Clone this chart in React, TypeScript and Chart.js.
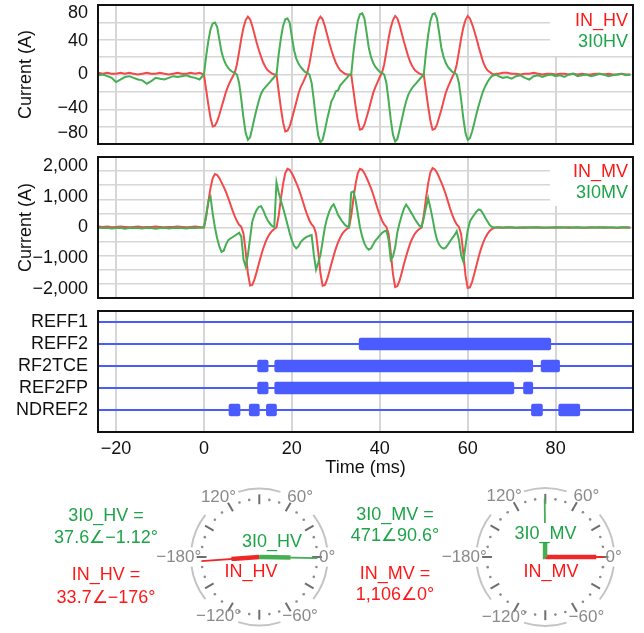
import React, { useEffect, useRef } from "react";
import { Chart, registerables } from "chart.js";

Chart.register(...registerables);

const FONT = "'Liberation Sans', Arial, Helvetica, sans-serif";
const RED_LINE = "rgb(242, 74, 74)";
const GREEN_LINE = "rgb(70, 174, 84)";
const RED_TEXT = "rgb(255, 24, 24)";
const GREEN_TEXT = "rgb(30, 164, 72)";
const BLUE = "rgb(74, 92, 255)";
const GRID = "rgb(214, 214, 214)";

// ---------------- DATA ----------------
// time grid (ms): 1 ms before/after the fault, 0.5 ms during it
const preTimes = [-24, -23, -22, -21, -20, -19, -18, -17, -16, -15, -14, -13, -12, -11, -10, -9, -8, -7, -6, -5, -4, -3, -2, -1];
const faultTimes = Array.from({ length: 134 }, (_, i) => i / 2);
const postTimes = [67, 68, 69, 70, 71, 72, 73, 74, 75, 76, 77, 78, 79, 80, 81, 82, 83, 84, 85, 86, 87, 88, 89, 90, 91, 92, 93, 94, 95, 96, 97];
const timeMs = [...preTimes, ...faultTimes, ...postTimes];

// IN_HV (A)
const inHV = [
  2, 1, 2, 1, 1, 2, 1, 2, 1, 0, 1, 2, 1, 1, 2, 1, 0, 1, 2, 1, 1, 2, 1, 2,
  0, -18, -36, -52, -62, -61, -56, -48, -39, -30, -21, -14, -8, -3, 2, 12, 27, 43, 56, 65, 69, 66, 58, 48, 38, 29, 21, 14, 9, 5, 3, 1, 0,
  0, -20, -40, -57, -68, -67, -62, -53, -43, -33, -23, -15, -10, -4, 2, 13, 28, 43, 56, 65, 69, 66, 58, 48, 38, 29, 21, 14, 9, 5, 3, 1, 0, 0,
  0, -19, -38, -55, -66, -65, -60, -51, -42, -32, -22, -15, -9, -3, 2, 12, 27, 43, 56, 65, 70, 67, 59, 49, 39, 30, 21, 14, 9, 5, 3, 1, 0,
  0, -19, -38, -55, -66, -65, -60, -51, -42, -32, -22, -15, -9, -3, 2, 12, 27, 43, 56, 65, 70, 67, 60, 52, 43, 33, 24, 15, 9, 5, 3, 1, 0, 1,
  1, 2, 2, 1, 1, 0, 1, 1, 2, 1, 0, 1, 1, 0, 1, 1, 0, 1, 0, 1, 0, 0, 1, 1, 0, 1, 0, 0, 1, 0, 0,
];
// 3I0HV (A)
const i0HV = [
  -1, 0, -2, -4, -9, -6, -3, -2, -4, -6, -7, -11, -8, -4, -5, -6, -4, -2, -3, -2, -1, -3, -4, -6,
  0, 22, 40, 54, 61, 62, 57, 42, 27, 18, 12, 8, 5, 3, 2, 0, -10, -30, -52, -70, -78, -75, -64, -52, -41, -31, -23, -18, -15, -12, -9, -6, -3,
  0, 24, 43, 58, 66, 67, 62, 45, 29, 19, 13, 9, 6, 3, 2, 0, -10, -31, -54, -73, -81, -78, -67, -54, -43, -32, -27, -20, -19, -13, -10, -7, -4, -1,
  0, 26, 47, 64, 72, 73, 67, 50, 32, 21, 14, 9, 6, 3, 2, 0, -10, -31, -54, -72, -80, -77, -66, -54, -42, -32, -24, -19, -15, -12, -9, -6, -3,
  0, 26, 47, 64, 72, 73, 67, 50, 32, 21, 14, 9, 6, 3, 2, 0, -10, -30, -52, -70, -78, -76, -68, -58, -47, -37, -28, -20, -14, -9, -5, -2, -1, 0,
  -2, -4, -3, -5, -2, -1, -4, -6, -2, -1, -3, -1, 0, -2, -1, -3, 0, 1, -2, -1, 0, -2, -1, 1, 0, -2, -1, 0, 1, -1, 0,
];
// IN_MV (A)
const inMV = [
  30, 20, 30, 10, 20, 30, 20, 10, 20, 30, 10, 20, 20, 30, 20, 10, 20, 20, 30, 20, 10, 20, 30, 20,
  0, 350, 850, 1300, 1620, 1750, 1720, 1620, 1480, 1330, 1170, 980, 770, 560, 370, 210, 90, 20, -200, -800, -1500, -1900, -1880, -1700, -1450, -1180, -920, -680, -480, -320, -200, -110, -50,
  0, 385, 935, 1430, 1780, 1925, 1890, 1780, 1630, 1460, 1290, 1080, 850, 620, 410, 230, 100, 20, -200, -800, -1500, -1910, -1890, -1710, -1460, -1190, -930, -690, -490, -330, -200, -110, -50,
  0, 385, 935, 1430, 1780, 1925, 1890, 1780, 1630, 1460, 1290, 1080, 850, 620, 410, 230, 100, 20, -200, -820, -1530, -1950, -1920, -1740, -1480, -1200, -940, -700, -490, -330, -200, -110, -50,
  0, 390, 945, 1445, 1800, 1945, 1910, 1800, 1645, 1475, 1300, 1090, 855, 620, 410, 235, 100, 20, -210, -840, -1570, -1985, -1965, -1780, -1515, -1235, -960, -710, -500, -335, -210, -115, -50, -10, 0,
  10, 0, 10, 0, -10, 0, 10, 0, 0, 10, 0, -10, 0, 10, 0, 0, 10, 0, 0, -10, 0, 10, 0, 0, 10, 0, 0, -10, 0, 10, 0,
];
// 3I0MV (A)
const i0MV = [
  -10, -20, -10, -30, -20, -10, -40, -20, -10, -20, -30, -10, -20, -40, -20, -10, -30, -20, -10, -20, -30, -10, -20, -10,
  0, 400, 850, 1000, 450, 0, -350, -620, -800, -760,
  -560, -420, -360, -320, -270, -220, -170, -300, -1050, -1280,
  -900, -350, 200, 420, 580, 680, 700, 560, 380, 240,
  130, 50, 10, 1480, 1150, 880, 640, 380, 100, -180,
  -420, -600, -680, -620, -480, -400, -340, -300, -270, -250,
  -900, -1380, -1150, -900, -450, 0, 300, 520, 680, 760,
  600, 420, 300, 190, 100, 40, 10, 1150, 1180, 900,
  450, 0, -300, -520, -660, -730, -680, -560, -430, -350,
  -260, -180, -130, -100, -400, -1060, -950, -650, -150, 150,
  400, 620, 750, 650, 520, 400, 270, 160, 60, 20,
  300, 650, 960, 650, 300, -100, -400, -560, -650, -690,
  -660, -560, -450, -350, -250, -120, -400, -900, -1110, -600,
  -100, 200, 320, 420, 520, 590, 560, 450, 320, 200,
  80, 20, 0, 0,
  0, -10, 0, 10, -10, 0, -10, 0, 10, 0, -10, 0, 0, -10, 10, 0, -10, 0, 10, 0, -10, 0, 0, 10, -10, 0, 0, -10, 10, 0, -10,
];

const hvTickValues = [-80, -40, 0, 40, 80];
const mvTickValues = [-2000, -1000, 0, 1000, 2000];
const timeTickValues = [-20, 0, 20, 40, 60, 80];

// digital signals: active intervals (ms)
const digitalNames = ["REFF1", "REFF2", "RF2TCE", "REF2FP", "NDREF2"];
const digitalRows = [5, 4, 3, 2, 1];
const reff1On: number[][] = [];
const reff2On = [[35.3, 78.9]];
const rf2tceOn = [[12.2, 14.6], [16.1, 74.8], [76.7, 80.9]];
const ref2fpOn = [[12.2, 14.6], [16.1, 70.5], [72.7, 74.8]];
const ndref2On = [[5.7, 8.2], [10.3, 12.6], [14.2, 16.5], [74.5, 77.0], [80.7, 85.5]];
const digitalOn = [reff1On, reff2On, rf2tceOn, ref2fpOn, ndref2On];

// phasors
const phasorNames = ["3I0_HV", "IN_HV", "3I0_MV", "IN_MV"];
const phasorMag = [37.6, 33.7, 471, 1106];
const phasorAngle = [-1.12, -176, 90.6, 0];
const dialFullScale = [70, 1270];
const dialAngleLabels = [0, 60, 120, -180, -120, -60];

// ---------------- HELPERS ----------------
const fmt = (v: number) =>
  (v < 0 ? "\u2212" : "") + Math.abs(v).toLocaleString("en-US", { maximumFractionDigits: 2 });

const X_MIN = -24.1;
const X_MAX = 97.6;

const framePlugin = {
  id: "frame",
  afterDraw(chart: any) {
    const { ctx, chartArea } = chart;
    const { left, top, right, bottom } = chartArea;
    ctx.save();
    ctx.strokeStyle = "#111";
    ctx.lineWidth = 2;
    ctx.strokeRect(left, top, right - left, bottom - top);
    ctx.restore();
  },
};

const near = (v: number, list: number[]) => list.some((u) => Math.abs(u - v) < 1e-6);

const noEdgePad = (ax: any) => {
  ax.paddingTop = 0;
  ax.paddingBottom = 0;
  ax.paddingLeft = 0;
  ax.paddingRight = 0;
};

// edgeShift: labels at the extreme ticks are kept inside the plot frame
// (done by giving them an empty companion line with a chosen line height)
function waveConfig(
  green: number[],
  red: number[],
  yMax: number,
  nDiv: number,
  labelVals: number[],
  padding: any,
  edgeShift: { top: number; bottom: number }
) {
  const gridVals: number[] = [];
  for (let k = -(nDiv - 1); k <= nDiv - 1; k++) gridVals.push((k * yMax) / nDiv);
  const all = Array.from(new Set([...gridVals, ...labelVals])).sort((a, b) => a - b);
  const pts = (s: number[]) => timeMs.map((t, i) => ({ x: t, y: s[i] }));
  const maxLabel = Math.max(...labelVals);
  const minLabel = Math.min(...labelVals);
  return {
    type: "line",
    data: {
      datasets: [
        { data: pts(green), borderColor: GREEN_LINE, borderWidth: 2, pointRadius: 0, tension: 0 },
        { data: pts(red), borderColor: RED_LINE, borderWidth: 2, pointRadius: 0, tension: 0 },
      ],
    },
    options: {
      responsive: false,
      animation: false,
      devicePixelRatio: 1,
      layout: { padding, autoPadding: false },
      plugins: { legend: { display: false }, tooltip: { enabled: false } },
      scales: {
        x: {
          type: "linear",
          min: X_MIN,
          max: X_MAX,
          afterBuildTicks: (ax: any) => {
            ax.ticks = timeTickValues.map((v) => ({ value: v }));
          },
          afterFit: (ax: any) => {
            noEdgePad(ax);
            ax.height = 0;
          },
          ticks: { display: false },
          grid: { color: GRID, lineWidth: 2, drawTicks: false },
          border: { display: false },
        },
        y: {
          type: "linear",
          min: -yMax,
          max: yMax,
          afterBuildTicks: (ax: any) => {
            ax.ticks = all.map((v) => ({ value: v }));
          },
          afterFit: (ax: any) => {
            ax.width = 98;
            noEdgePad(ax);
          },
          ticks: {
            autoSkip: false,
            padding: 10,
            color: "#111",
            font: (c: any) => {
              const v = c.tick ? c.tick.value : 0;
              if (edgeShift.top && Math.abs(v - maxLabel) < 1e-6) return { size: 18, family: FONT, lineHeight: (2 * edgeShift.top) / 18 };
              if (edgeShift.bottom && Math.abs(v - minLabel) < 1e-6) return { size: 18, family: FONT, lineHeight: (2 * edgeShift.bottom) / 18 };
              return { size: 18, family: FONT };
            },
            callback: (v: number) => {
              if (!near(v, labelVals)) return "";
              if (edgeShift.top && Math.abs(v - maxLabel) < 1e-6) return ["", fmt(v)];
              if (edgeShift.bottom && Math.abs(v - minLabel) < 1e-6) return [fmt(v), ""];
              return fmt(v);
            },
          },
          grid: {
            drawTicks: false,
            lineWidth: 1.5,
            color: (c: any) => (c.tick && near(c.tick.value, gridVals) ? GRID : "rgba(0,0,0,0)"),
          },
          border: { display: false },
          title: {
            display: true,
            text: "Current (A)",
            color: "#111",
            font: { size: 18, family: FONT },
            padding: { top: 15, bottom: 0 },
          },
        },
      },
    },
    plugins: [framePlugin],
  };
}

function digitalConfig() {
  const bars: any[] = [];
  digitalOn.forEach((list, i) => {
    list.forEach(([s, e]) => bars.push({ x: [s, e], y: digitalRows[i] }));
  });
  const baselines = digitalRows.map((r) => ({
    type: "line",
    indexAxis: "x",
    data: [{ x: -30, y: r }, { x: 110, y: r }],
    borderColor: BLUE,
    borderWidth: 2,
    pointRadius: 0,
    order: 1,
  }));
  return {
    type: "bar",
    data: {
      datasets: [
        {
          type: "bar",
          data: bars,
          backgroundColor: BLUE,
          borderWidth: 0,
          borderRadius: 2,
          borderSkipped: false,
          barThickness: 12,
          order: 0,
        },
        ...baselines,
      ],
    },
    options: {
      indexAxis: "y",
      responsive: false,
      animation: false,
      devicePixelRatio: 1,
      layout: { padding: { top: 6, right: 11, bottom: 3.4, left: 0 }, autoPadding: false },
      plugins: { legend: { display: false }, tooltip: { enabled: false } },
      scales: {
        x: {
          type: "linear",
          min: X_MIN,
          max: X_MAX,
          afterBuildTicks: (ax: any) => {
            ax.ticks = timeTickValues.map((v) => ({ value: v }));
          },
          afterFit: (ax: any) => {
            noEdgePad(ax);
            ax.height = 44.6;
          },
          ticks: {
            autoSkip: false,
            maxRotation: 0,
            padding: 6,
            color: "#111",
            font: { size: 18, family: FONT },
            callback: (v: number) => fmt(v),
          },
          grid: { color: GRID, lineWidth: 2, drawTicks: false },
          border: { display: false },
          title: {
            display: true,
            text: "Time (ms)",
            color: "#111",
            font: { size: 18, family: FONT, lineHeight: 1 },
            padding: { top: 0, bottom: 0 },
          },
        },
        y: {
          type: "linear",
          min: 0,
          max: 5.5,
          offset: false,
          afterBuildTicks: (ax: any) => {
            ax.ticks = digitalRows.map((v) => ({ value: v }));
          },
          afterFit: (ax: any) => {
            ax.width = 98;
            noEdgePad(ax);
          },
          ticks: {
            autoSkip: false,
            padding: 10,
            color: "#111",
            font: { size: 18, family: FONT },
            callback: (v: number) => digitalNames[digitalRows.indexOf(v)] || "",
          },
          grid: { display: false, offset: false, drawTicks: false },
          border: { display: false },
        },
      },
    },
    plugins: [framePlugin],
  };
}

const OUTER_ARCS = [[8, 38], [72, 108], [142, 172], [-172, -142], [-108, -72], [-38, -8]];

const dialPlugin = {
  id: "dial",
  beforeDatasetsDraw(chart: any) {
    const { ctx } = chart;
    const xs = chart.scales.x;
    const ys = chart.scales.y;
    const cx = xs.getPixelForValue(0);
    const cy = ys.getPixelForValue(0);
    const r = xs.getPixelForValue(1) - cx;
    const rad = Math.PI / 180;
    ctx.save();
    // outer ring segments
    ctx.strokeStyle = "rgb(196,196,196)";
    ctx.lineWidth = 2;
    OUTER_ARCS.forEach(([a0, a1]) => {
      ctx.beginPath();
      ctx.arc(cx, cy, r * 1.18, -a1 * rad, -a0 * rad);
      ctx.stroke();
    });
    // dotted inner ring
    ctx.fillStyle = "rgb(140,140,140)";
    for (let a = 0; a < 360; a += 10) {
      if (a % 30 === 0) continue;
      ctx.beginPath();
      ctx.arc(cx + r * Math.cos(a * rad), cy - r * Math.sin(a * rad), 1.3, 0, Math.PI * 2);
      ctx.fill();
    }
    // major ticks
    ctx.strokeStyle = "rgb(110,110,110)";
    ctx.lineWidth = 2;
    for (let a = 0; a < 360; a += 30) {
      const c = Math.cos(a * rad);
      const s = Math.sin(a * rad);
      ctx.beginPath();
      ctx.moveTo(cx + r * 0.91 * c, cy - r * 0.91 * s);
      ctx.lineTo(cx + r * 1.08 * c, cy - r * 1.08 * s);
      ctx.stroke();
    }
    // degree labels
    ctx.fillStyle = "rgb(138,138,138)";
    ctx.font = `17px ${FONT}`;
    ctx.textBaseline = "middle";
    dialAngleLabels.forEach((a) => {
      const text = fmt(a) + "\u00b0";
      if (a === 0) {
        ctx.textAlign = "left";
        ctx.fillText(text, cx + r * 1.03, cy);
      } else if (Math.abs(a) === 180) {
        ctx.textAlign = "right";
        ctx.fillText(text, cx - r * 1.0, cy);
      } else {
        const c = Math.cos(a * rad);
        const s = Math.sin(a * rad);
        ctx.textAlign = "center";
        ctx.fillText(text, cx + r * 1.2 * c + Math.sign(c) * 6, cy - r * 1.19 * s);
      }
    });
    ctx.restore();
  },
};

type Dial = { left: number; top: number; w: number; h: number; cx: number; cy: number; r: number };
const HV_DIAL: Dial = { left: 149, top: 470, w: 220, h: 163, cx: 259.3, cy: 557, r: 58 };
const MV_DIAL: Dial = { left: 435, top: 470, w: 209, h: 163, cx: 545.3, cy: 557, r: 58.5 };

function dialConfig(d: Dial, idx: number[], fullScale: number) {
  const datasets: any[] = [];
  idx.forEach((j) => {
    const a = (phasorAngle[j] * Math.PI) / 180;
    const color = j % 2 === 0 ? GREEN_LINE : "rgb(238,40,40)";
    const k = phasorMag[j] / fullScale;
    datasets.push({
      data: [{ x: 0, y: 0 }, { x: Math.cos(a), y: Math.sin(a) }],
      showLine: true,
      borderColor: color,
      borderWidth: 1.8,
      pointRadius: 0,
    });
    datasets.push({
      data: [{ x: 0, y: 0 }, { x: k * Math.cos(a), y: k * Math.sin(a) }],
      showLine: true,
      borderColor: color,
      borderWidth: 4.5,
      borderCapStyle: "butt",
      pointRadius: 0,
    });
  });
  return {
    type: "scatter",
    data: { datasets },
    options: {
      responsive: false,
      animation: false,
      devicePixelRatio: 1,
      layout: { padding: 0, autoPadding: false },
      plugins: { legend: { display: false }, tooltip: { enabled: false } },
      scales: {
        x: { type: "linear", display: false, min: -(d.cx - d.left) / d.r, max: (d.left + d.w - d.cx) / d.r },
        y: { type: "linear", display: false, min: -(d.top + d.h - d.cy) / d.r, max: (d.cy - d.top) / d.r },
      },
    },
    plugins: [dialPlugin],
  };
}

// ---------------- COMPONENTS ----------------
function Txt(props: { x: number; y: number; color: string; text: string; align?: string; bg?: boolean }) {
  const { x, y, color, text, align = "center", bg } = props;
  const w = 220;
  const left = align === "right" ? x - w : x - w / 2;
  return (
    <div
      style={{
        position: "absolute",
        left,
        top: y - 11,
        width: w,
        height: 22,
        lineHeight: "22px",
        textAlign: align as any,
        color,
        font: `18px ${FONT}`,
        whiteSpace: "nowrap",
        pointerEvents: "none",
      }}
    >
      <span style={{ background: bg ? "#fff" : "transparent" }}>{text}</span>
    </div>
  );
}

export default function App() {
  const hvRef = useRef<HTMLCanvasElement>(null);
  const mvRef = useRef<HTMLCanvasElement>(null);
  const digRef = useRef<HTMLCanvasElement>(null);
  const hvDialRef = useRef<HTMLCanvasElement>(null);
  const mvDialRef = useRef<HTMLCanvasElement>(null);

  useEffect(() => {
    Chart.defaults.font.family = FONT;
    const charts = [
      new Chart(
        hvRef.current as any,
        waveConfig(i0HV, inHV, 83, 4, hvTickValues, { top: 5, right: 11, bottom: 6, left: 0 }, { top: 5.4, bottom: 8.5 }) as any
      ),
      new Chart(
        mvRef.current as any,
        waveConfig(i0MV, inMV, 2310, 5, mvTickValues, { top: 7, right: 11, bottom: 4, left: 0 }, { top: 0, bottom: 0 }) as any
      ),
      new Chart(digRef.current as any, digitalConfig() as any),
      new Chart(hvDialRef.current as any, dialConfig(HV_DIAL, [0, 1], dialFullScale[0]) as any),
      new Chart(mvDialRef.current as any, dialConfig(MV_DIAL, [2, 3], dialFullScale[1]) as any),
    ];
    return () => charts.forEach((c) => c.destroy());
  }, []);

  const abs = (left: number, top: number, w: number, h: number): any => ({ position: "absolute", left, top, width: w, height: h });

  const line2 = (j: number) => `${fmt(phasorMag[j])}\u2220${fmt(phasorAngle[j])}\u00b0`;

  return (
    <div style={{ position: "absolute", left: 0, top: 0, width: 644, height: 633, background: "#fff", overflow: "hidden" }}>
      <canvas ref={hvRef} width={644} height={150} style={abs(0, 0, 644, 150)} />
      <canvas ref={mvRef} width={644} height={152} style={abs(0, 150, 644, 152)} />
      <canvas ref={digRef} width={644} height={175} style={abs(0, 305, 644, 175)} />
      <canvas ref={hvDialRef} width={HV_DIAL.w} height={HV_DIAL.h} style={abs(HV_DIAL.left, HV_DIAL.top, HV_DIAL.w, HV_DIAL.h)} />
      <canvas ref={mvDialRef} width={MV_DIAL.w} height={MV_DIAL.h} style={abs(MV_DIAL.left, MV_DIAL.top, MV_DIAL.w, MV_DIAL.h)} />

      {/* legends */}
      <div style={{ ...abs(550, 6, 82, 50), background: "#fff" }} />
      <Txt x={628} y={20.7} color={RED_TEXT} text="IN_HV" align="right" />
      <Txt x={628} y={41.7} color={GREEN_TEXT} text="3I0HV" align="right" />
      <div style={{ ...abs(550, 158, 82, 48), background: "#fff" }} />
      <Txt x={628} y={171.7} color={RED_TEXT} text="IN_MV" align="right" />
      <Txt x={628} y={193.3} color={GREEN_TEXT} text="3I0MV" align="right" />

      {/* phasor readouts */}
      <Txt x={106} y={515.7} color={GREEN_TEXT} text={`${phasorNames[0]} =`} />
      <Txt x={106} y={536.7} color={GREEN_TEXT} text={line2(0)} />
      <Txt x={106} y={575} color={RED_TEXT} text={`${phasorNames[1]} =`} />
      <Txt x={106} y={596.7} color={RED_TEXT} text={line2(1)} />
      <Txt x={395} y={515} color={GREEN_TEXT} text={`${phasorNames[2]} =`} />
      <Txt x={395} y={535} color={GREEN_TEXT} text={line2(2)} />
      <Txt x={395} y={574} color={RED_TEXT} text={`${phasorNames[3]} =`} />
      <Txt x={395} y={594} color={RED_TEXT} text={line2(3)} />

      {/* dial vector labels */}
      <Txt x={272} y={541.7} color={GREEN_TEXT} text={phasorNames[0]} bg />
      <Txt x={251} y={571.7} color={RED_TEXT} text={phasorNames[1]} bg />
      <Txt x={545.5} y={534} color={GREEN_TEXT} text={phasorNames[2]} bg />
      <Txt x={551} y={571.7} color={RED_TEXT} text={phasorNames[3]} bg />
    </div>
  );
}
